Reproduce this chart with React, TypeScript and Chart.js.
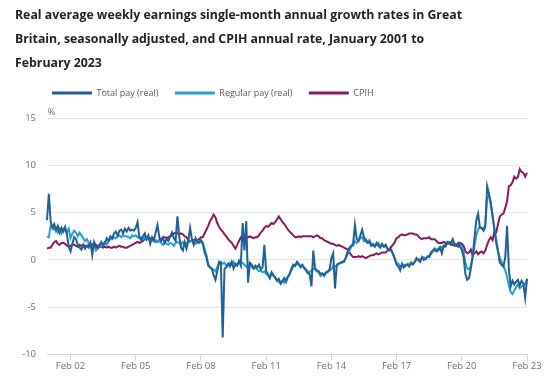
import React, { useEffect, useRef } from 'react';
import { Chart, registerables } from 'chart.js';

Chart.register(...registerables);

const MONTHS = ['Jan', 'Feb', 'Mar', 'Apr', 'May', 'Jun', 'Jul', 'Aug', 'Sep', 'Oct', 'Nov', 'Dec'];
const START_YEAR = 2001;

const TITLE_LINES = [
  'Real average weekly earnings single-month annual growth rates in Great',
  'Britain, seasonally adjusted, and CPIH annual rate, January 2001 to',
  'February 2023',
];

const SERIES_NAMES = ['Total pay (real)', 'Regular pay (real)', 'CPIH'];
const TICK_LABELS = ['Feb 02', 'Feb 05', 'Feb 08', 'Feb 11', 'Feb 14', 'Feb 17', 'Feb 20', 'Feb 23'];
const Y_TICKS = [-10, -5, 0, 5, 10, 15];

// Monthly values, Jan 2001 .. Feb 2023 (one row per year)
const TOTAL_PAY = [
  4.2, 7.0, 4.1, 3.4, 3.8, 3.1, 3.6, 2.9, 3.4, 3.0, 3.5, 2.7,
  1.4, 0.9, 1.7, 2.4, 2.2, 1.6, 1.3, 1.1, 1.6, 1.2, 1.5, 1.3,
  1.8, 0.5, 1.9, 1.4, 1.2, 1.6, 1.9, 1.5, 1.8, 2.3, 2.0, 2.5,
  2.3, 2.8, 3.0, 2.6, 3.1, 3.2, 2.8, 3.3, 3.0, 3.4, 3.1, 3.2,
  3.1, 3.4, 4.0, 2.4, 2.1, 2.5, 2.8, 2.2, 2.6, 1.7, 2.4, 2.1,
  2.9, 3.7, 2.4, 2.0, 2.3, 1.8, 2.2, 2.0, 2.5, 2.9, 2.3, 2.0,
  4.6, 2.5, 1.3, 1.0, 1.9, 1.2, 2.0, 3.4, 2.2, 1.6, 2.3, 1.9,
  1.9, 2.1, 1.8, 0.8, 0.3, -0.6, -0.8, -0.9, -1.6, -2.1, -1.2, -0.2,
  -0.3, -8.2, -0.9, -0.8, -0.4, -0.7, -0.2, -0.9, -0.4, -0.6, -0.1, -0.6,
  3.9, 1.0, 4.1, -2.4, -0.3, -0.5, -0.9, -0.6, -0.8, -0.5, -1.0, -0.8,
  1.6, -1.2, -1.5, -1.9, -1.3, -1.6, -1.9, -2.2, -2.0, -2.5, -2.2, -1.9,
  -2.3, -1.8, -1.5, -0.9, -0.5, -0.6, -0.2, -0.4, -0.7, -0.5, -0.9, -1.1,
  -1.4, -1.5, -2.8, 1.0, -0.9, -1.1, -1.2, -1.5, -1.4, -1.6, -1.3, -1.2,
  -1.0, 0.2, 0.7, -3.0, -0.5, -0.4, -0.3, -0.2, -0.2, 0.3, 0.9, 1.3,
  1.5, 1.7, 3.7, 2.2, 2.0, 2.6, 3.2, 2.4, 2.0, 1.8, 1.9, 1.5,
  1.6, 1.4, 1.8, 1.5, 1.3, 1.7, 1.4, 1.6, 1.2, 1.0, 1.1, 0.6,
  0.1, -0.5, -0.7, -1.1, -0.4, -0.8, -0.6, -0.5, -0.7, -0.3, -0.5, -0.2,
  0.2, 0.0, -0.2, 0.3, 0.0, 0.1, 0.3, 0.4, 0.8, 1.0, 1.2, 0.9,
  1.0, 1.3, 0.7, 1.5, 1.4, 1.9, 1.7, 1.8, 2.2, 1.7, 1.6, 1.8,
  1.4, 1.1, 0.3, -1.5, -2.1, -1.9, -0.9, 0.4, 2.3, 4.2, 4.9, 3.4,
  3.4, 3.1, 3.5, 7.8, 7.0, 6.1, 4.6, 3.2, 1.8, 0.9, -0.3, -0.5,
  -0.7, 0.3, 3.6, -1.0, -2.8, -2.2, -2.6, -2.3, -2.1, -2.7, -2.2, -2.5,
  -4.0, -2.0,
];

const REGULAR_PAY = [
  2.5, 2.4, 3.6, 3.5, 3.2, 3.4, 2.9, 3.3, 2.8, 3.3, 3.1, 2.9,
  3.3, 2.3, 2.8, 3.1, 2.9, 2.5, 2.9, 2.6, 2.3, 2.0, 2.2, 1.8,
  1.7, 1.2, 1.5, 1.0, 1.3, 1.6, 1.4, 1.7, 1.9, 1.6, 2.0, 2.2,
  2.2, 2.4, 2.3, 2.5, 2.6, 2.4, 2.6, 2.5, 2.5, 2.4, 2.3, 2.6,
  2.5, 2.6, 2.4, 2.3, 2.4, 2.2, 2.4, 2.1, 2.3, 2.0, 2.2, 2.0,
  2.1, 1.9, 2.0, 1.8, 1.6, 1.9, 1.7, 1.6, 1.8, 1.7, 1.5, 1.8,
  1.9, 1.8, 1.6, 1.9, 1.7, 1.8, 2.0, 1.9, 2.1, 1.9, 1.7, 1.8,
  1.8, 1.9, 1.7, 1.2, 0.5, -0.4, -0.8, -1.0, -1.0, -1.2, -0.8, -0.3,
  -0.2, -0.4, -0.3, -0.6, -0.5, -0.3, -0.5, -0.2, -0.6, -0.4, -0.3, -0.2,
  -0.3, -0.5, -0.7, -0.8, -0.6, -0.7, -0.9, -0.8, -1.0, -1.2, -1.1, -1.3,
  -1.2, -1.5, -1.6, -1.9, -1.4, -1.7, -1.8, -2.1, -2.3, -2.5, -2.2, -2.4,
  -2.0, -1.8, -1.4, -1.1, -0.7, -0.6, -0.4, -0.5, -0.8, -0.6, -0.8, -1.0,
  -1.2, -1.3, -1.1, -0.9, -1.0, -1.2, -1.3, -1.7, -1.5, -1.7, -1.4, -1.3,
  -1.1, -1.0, -0.6, -0.7, -0.6, -0.4, -0.3, -0.3, -0.1, 0.2, 0.6, 1.0,
  1.4, 1.5, 2.0, 1.8, 2.1, 2.3, 2.4, 2.0, 2.2, 1.9, 2.1, 1.7,
  1.7, 1.5, 1.6, 1.8, 1.5, 1.6, 1.4, 1.5, 1.2, 1.1, 1.0, 0.7,
  0.2, -0.3, -0.4, -0.7, -0.6, -0.5, -0.6, -0.4, -0.5, -0.3, -0.4, -0.2,
  0.0, 0.1, 0.0, 0.2, 0.3, 0.1, 0.4, 0.3, 0.6, 0.9, 1.0, 1.1,
  1.2, 1.4, 1.3, 1.5, 1.6, 1.7, 1.8, 1.9, 1.8, 1.7, 1.6, 1.7,
  1.6, 1.4, 0.9, -0.3, -0.9, -1.0, -0.6, 0.3, 1.5, 2.6, 3.2, 3.5,
  3.3, 3.2, 3.9, 6.5, 6.8, 5.8, 4.6, 3.3, 2.2, 1.0, 0.2, -0.2,
  -0.6, -1.1, -1.8, -2.7, -3.4, -3.6, -3.2, -2.9, -2.6, -3.0, -2.8, -2.7,
  -2.5, -2.0,
];

const CPIH = [
  1.2, 1.3, 1.3, 1.6, 1.9, 2.0, 1.7, 1.6, 1.8, 1.8, 1.7, 1.5,
  1.4, 1.5, 1.6, 1.6, 1.5, 1.4, 1.6, 1.5, 1.6, 1.5, 1.4, 1.6,
  1.7, 1.6, 1.8, 1.6, 1.5, 1.4, 1.4, 1.3, 1.4, 1.3, 1.4, 1.3,
  1.3, 1.4, 1.3, 1.4, 1.5, 1.4, 1.4, 1.3, 1.3, 1.4, 1.5, 1.6,
  1.7, 1.8, 1.9, 1.8, 1.9, 2.0, 2.2, 2.3, 2.4, 2.3, 2.1, 2.0,
  1.9, 2.0, 2.1, 2.2, 2.4, 2.4, 2.3, 2.4, 2.5, 2.6, 2.8, 2.9,
  2.8, 2.7, 2.8, 2.7, 2.5, 2.4, 2.1, 2.0, 2.0, 2.1, 2.1, 2.1,
  2.2, 2.4, 2.4, 2.8, 3.2, 3.6, 4.1, 4.4, 4.8, 4.5, 3.9, 3.5,
  3.2, 3.0, 2.7, 2.5, 2.2, 2.0, 1.8, 1.5, 1.2, 1.6, 2.0, 2.4,
  2.6, 2.4, 2.3, 2.4, 2.5, 2.4, 2.3, 2.4, 2.4, 2.6, 2.9, 3.1,
  3.4, 3.6, 3.5, 3.7, 3.9, 3.8, 4.0, 4.3, 4.6, 4.3, 4.0, 3.8,
  3.5, 3.2, 3.0, 2.8, 2.6, 2.4, 2.4, 2.5, 2.4, 2.5, 2.5, 2.5,
  2.5, 2.5, 2.5, 2.4, 2.5, 2.6, 2.5, 2.3, 2.3, 2.1, 2.0, 1.9,
  1.8, 1.7, 1.7, 1.6, 1.5, 1.6, 1.5, 1.4, 1.3, 1.2, 1.1, 0.8,
  0.5, 0.3, 0.3, 0.3, 0.4, 0.3, 0.4, 0.3, 0.2, 0.3, 0.4, 0.5,
  0.5, 0.6, 0.7, 0.6, 0.7, 0.8, 0.8, 0.8, 1.0, 1.1, 1.4, 1.6,
  1.9, 2.3, 2.4, 2.6, 2.7, 2.6, 2.6, 2.7, 2.8, 2.8, 2.8, 2.7,
  2.7, 2.5, 2.3, 2.2, 2.3, 2.3, 2.3, 2.4, 2.2, 2.2, 2.2, 2.0,
  1.8, 1.8, 1.8, 1.9, 1.8, 1.8, 1.9, 1.6, 1.6, 1.5, 1.5, 1.4,
  1.8, 1.7, 1.5, 0.9, 0.7, 0.8, 1.1, 0.5, 0.7, 0.9, 0.6, 0.8,
  0.9, 0.7, 1.0, 1.6, 2.1, 2.4, 2.1, 3.0, 2.9, 3.8, 4.6, 4.8,
  4.9, 5.5, 6.2, 7.8, 7.9, 8.2, 8.8, 8.6, 8.8, 9.6, 9.3, 9.2,
  8.8, 9.2,
];

const CATEGORIES = CPIH.map((_, i) => {
  const yr = (START_YEAR + Math.floor(i / 12)) % 100;
  return `${MONTHS[i % 12]} ${String(yr).padStart(2, '0')}`;
});

const COLORS = ['#206095', '#27a0cc', '#871a5b'];
const FONT = 'Open Sans';

const adjustPlugin = {
  id: 'adjustBoxes',
  afterLayout(chart: any) {
    if (chart.titleBlock) {
      chart.titleBlock.left = 15;
    }
    if (chart.legend) {
      chart.legend.left = 35.5;
      chart.legend.top = chart.legend.top - 10.5;
    }
  },
};

const percentPlugin = {
  id: 'percentLabel',
  afterDraw(chart: any) {
    const { ctx, chartArea } = chart;
    ctx.save();
    ctx.font = `9.5px "${FONT}"`;
    ctx.fillStyle = '#707070';
    ctx.textAlign = 'left';
    ctx.textBaseline = 'middle';
    ctx.fillText('%', chartArea.left + 0.5, chartArea.top - 5.5);
    ctx.restore();
  },
};

export default function App() {
  const ref = useRef<HTMLCanvasElement | null>(null);

  useEffect(() => {
    document.body.style.margin = '0';
    const canvas = ref.current;
    if (!canvas) return;
    const series = [TOTAL_PAY, REGULAR_PAY, CPIH];
    const chart = new Chart(canvas, {
      type: 'line',
      data: {
        labels: CATEGORIES,
        datasets: series.map((d, k) => ({
          label: SERIES_NAMES[k],
          data: d,
          borderColor: COLORS[k],
          backgroundColor: COLORS[k],
          borderWidth: 2,
          pointRadius: 0,
          tension: 0,
        })),
      },
      options: {
        animation: false,
        responsive: false,
        maintainAspectRatio: false,
        events: [],
        layout: { padding: { left: 0, right: 23, top: 0, bottom: 12 } },
        plugins: {
          title: {
            display: true,
            text: TITLE_LINES,
            align: 'start',
            color: '#222222',
            font: { family: FONT, size: 12.3, weight: 'bold', lineHeight: '24px' },
            padding: { top: 3, bottom: 7.5 },
          },
          legend: {
            display: true,
            align: 'start',
            labels: {
              boxWidth: 40,
              boxHeight: 3,
              padding: 16.5,
              color: '#5a5a5a',
              font: { family: FONT, size: 9 },
              generateLabels: (c: any) =>
                (Chart.defaults.plugins.legend.labels as any)
                  .generateLabels(c)
                  .map((l: any) => ({ ...l, lineWidth: 0, fillStyle: l.strokeStyle })),
            },
          },
          tooltip: { enabled: false },
        },
        scales: {
          x: {
            type: 'category',
            offset: false,
            grid: {
              display: true,
              drawOnChartArea: false,
              drawTicks: true,
              tickLength: 6,
              color: '#cfd5e3',
            },
            border: { display: true, color: '#cfd5e3' },
            ticks: {
              autoSkip: false,
              maxRotation: 0,
              minRotation: 0,
              padding: 0,
              color: '#707070',
              font: { family: FONT, size: 9.5 },
              callback: (_v: any, i: number) =>
                TICK_LABELS.includes(CATEGORIES[i]) ? CATEGORIES[i] : null,
            },
          },
          y: {
            min: -10,
            max: 15,
            afterBuildTicks: (s: any) => {
              s.ticks = Y_TICKS.map((v) => ({ value: v }));
            },
            afterFit: (s: any) => {
              s.width = 47;
            },
            grid: { color: '#e6e6e6', drawTicks: false },
            border: { display: false },
            ticks: {
              padding: 11,
              color: '#707070',
              font: { family: FONT, size: 9.5 },
            },
          },
        },
      },
      plugins: [adjustPlugin, percentPlugin],
    } as any);
    return () => chart.destroy();
  }, []);

  return (
    <div style={{ width: 550, height: 384 }}>
      <canvas ref={ref} width={550} height={384} style={{ display: 'block' }} />
    </div>
  );
}
